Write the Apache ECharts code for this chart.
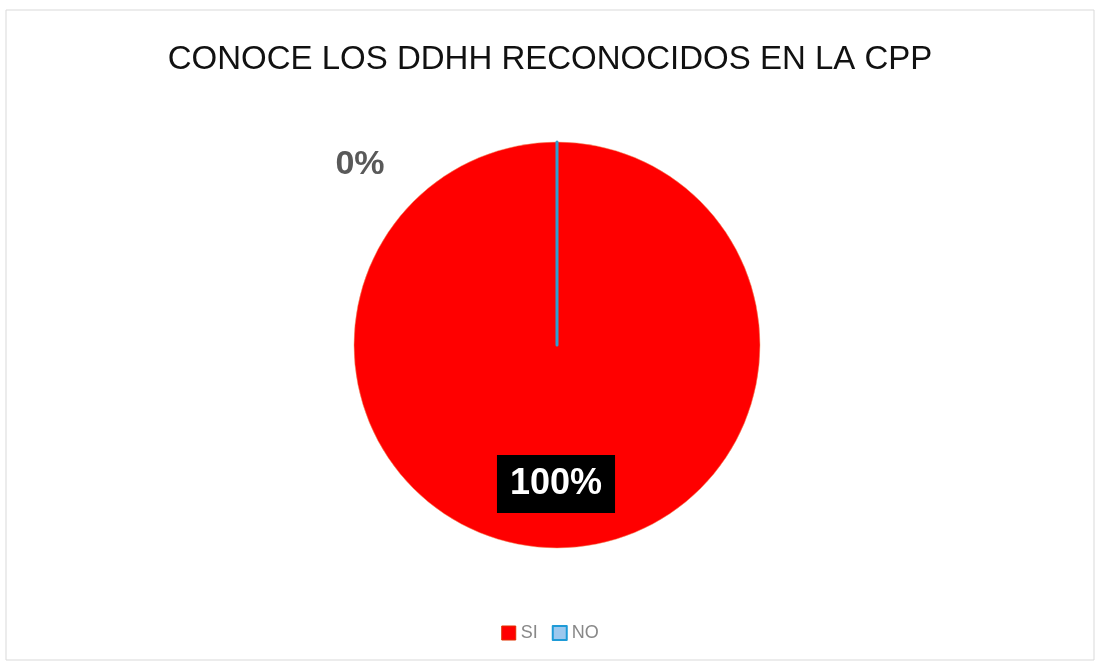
<!DOCTYPE html>
<html><head><meta charset="utf-8">
<script src="https://cdn.jsdelivr.net/npm/echarts@6/dist/echarts.min.js"></script>
<style>html,body{margin:0;padding:0;background:#fff}#c{width:1100px;height:667px}</style>
</head><body><div id="c"></div>
<script>
const categories = ['SI', 'NO'];
const values = [100, 0];
const colors = ['#FF0000', '#2E9FD0'];
const titleText = 'CONOCE LOS DDHH RECONOCIDOS EN LA CPP';

const chart = echarts.init(document.getElementById('c'));
chart.setOption({
  backgroundColor: '#fff',
  graphic: [{type:'rect', shape:{x:6,y:10,width:1088,height:650}, style:{fill:'none', stroke:'#d9d9d9', lineWidth:1}, silent:true}],
  title: {text: titleText, left: 'center', top: 38, textStyle: {fontFamily:'Liberation Sans, Arial', fontWeight:'normal', fontSize:33, color:'#111'}},
  legend: {
    bottom: 20, left: 'center', itemWidth: 14, itemHeight: 14, itemGap: 14,
    textStyle: {fontFamily:'Liberation Sans, Arial', fontSize:18, color:'#888'},
    data: [
      {name: 'SI', icon: 'rect', itemStyle: {color: '#FF0000', borderColor:'#E03000', borderWidth:1}},
      {name: 'NO', icon: 'rect', itemStyle: {color: '#9CC8EE', borderColor:'#1E9BD7', borderWidth:2}}
    ]
  },
  series: [{
    type: 'pie',
    center: [557, 345],
    radius: [0, 203],
    startAngle: 90,
    clockwise: true,
    animation: false,
    avoidLabelOverlap: false,
    minAngle: 0,
    stillShowZeroSum: true,
    data: categories.map((n, i) => ({
      name: n, value: values[i],
      itemStyle: i === 0 ? {color: colors[0], borderColor:'#F0A070', borderWidth:0.5}
                         : {color: colors[1], borderColor: colors[1], borderWidth: 3},
      label: i === 0 ? {
        show: true, position: 'inside', formatter: '{d}%',
        color: '#fff', fontSize: 36, fontFamily: 'Liberation Sans, Arial', fontWeight: 'bold',
        backgroundColor: '#000', padding: [12, 13, 10, 13]
      } : {
        show: true, position: 'outside', formatter: '{d}%',
        color: '#595959', fontSize: 34, fontFamily: 'Liberation Sans, Arial', fontWeight: 'bold'
      },
      labelLine: {show: false}
    })),
    labelLayout: function (p) {
      if (p.dataIndex === 0) return {x: 556, y: 484, align: 'center', verticalAlign: 'middle'};
      return {x: 360, y: 165, align: 'center', verticalAlign: 'middle'};
    }
  }]
});
</script></body></html>
